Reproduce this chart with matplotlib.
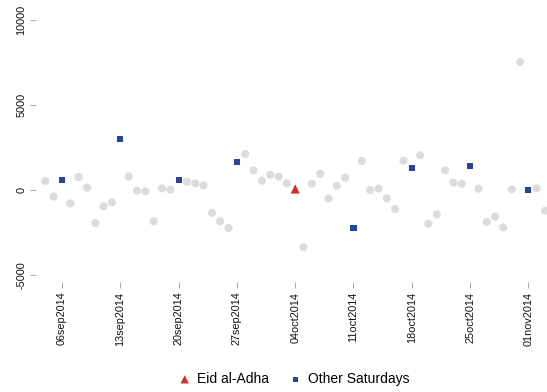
import matplotlib
matplotlib.use("Agg")
import matplotlib.pyplot as plt
import numpy as np
import pandas as pd

plt.rcParams['font.family'] = ['Liberation Sans', 'DejaVu Sans']

start_date = "2014-09-04"
values = [530, -390, 570, -790, 760, 140, -1940, -960, -730, 3000,
          790, -40, -80, -1840, 100, 20, 610, 490, 390, 270,
          -1350, -1840, -2240, 1670, 2120, 1160, 550, 900, 790, 390,
          60, -3370, 370, 960, -510, 250, 730, -2210, 1710, 0,
          80, -490, -1120, 1730, 1290, 2040, -1980, -1430, 1160, 430,
          370, 1430, 80, -1880, -1570, -2200, 40, 7530, 0, 100, -1220]
eid_date = "2014-10-04"
tick_labels = ["06sep2014", "13sep2014", "20sep2014", "27sep2014", "04oct2014",
               "11oct2014", "18oct2014", "25oct2014", "01nov2014"]
y_ticks = [-5000, 0, 5000, 10000]

dates = pd.date_range(start_date, periods=len(values), freq="D")
df = pd.DataFrame({"date": dates, "value": values})
df["x"] = (df["date"] - pd.Timestamp("2014-09-06")).dt.days
eid_x = (pd.Timestamp(eid_date) - pd.Timestamp("2014-09-06")).days
is_sat = (df["date"].dt.dayofweek == 5)
eid = df["x"] == eid_x
sat = is_sat & ~eid
other = ~is_sat

W, H = 547, 392
fig = plt.figure(figsize=(W / 100, H / 100), dpi=100)
ax_l, ax_r, ax_t, ax_b = 36, 547, 12, 282
ax = fig.add_axes([ax_l / W, 1 - ax_b / H, (ax_r - ax_l) / W, (ax_b - ax_t) / H])

px_day = 58.3 / 7
x0 = (ax_l - 62) / px_day
x1 = (ax_r - 62) / px_day
ax.set_xlim(x0, x1)
px_k = 17.0
ax.set_ylim((190 - ax_b) / px_k * 1000, (190 - ax_t) / px_k * 1000)

ax.scatter(df.loc[other, "x"], df.loc[other, "value"], s=34, color="#dcdcdc",
           edgecolors="none", zorder=2, clip_on=False)
ax.scatter(df.loc[sat, "x"], df.loc[sat, "value"], s=19, marker="s", color="#26449a",
           edgecolors="none", zorder=3, label="Other Saturdays")
ax.scatter(df.loc[eid, "x"], df.loc[eid, "value"], s=44, marker="^", color="#d2302e",
           edgecolors="none", zorder=4, label="Eid al-Adha")

tick_x = [(pd.Timestamp(pd.to_datetime(t, format="%d%b%Y")) - pd.Timestamp("2014-09-06")).days
          for t in tick_labels]
ax.set_xticks(tick_x)
ax.set_xticklabels(tick_labels, rotation=90, fontsize=7.8, color="#111111")
ax.set_yticks(y_ticks)
ax.set_yticklabels([str(v) for v in y_ticks], rotation=90, fontsize=7.8,
                   color="#111111", va="center")
ax.tick_params(axis="both", length=4, width=0.6, color="#999999", pad=3)

for s in ax.spines.values():
    s.set_visible(False)

handles, labels = ax.get_legend_handles_labels()
order = [1, 0]
fig.legend([handles[i] for i in order], [labels[i] for i in order],
           loc="center", bbox_to_anchor=(293 / W, 1 - 379 / H), ncol=2,
           frameon=False, fontsize=10, handletextpad=0.3, columnspacing=1.3,
           markerscale=0.9, handlelength=1.2)

fig.savefig("out.png", dpi=100)
